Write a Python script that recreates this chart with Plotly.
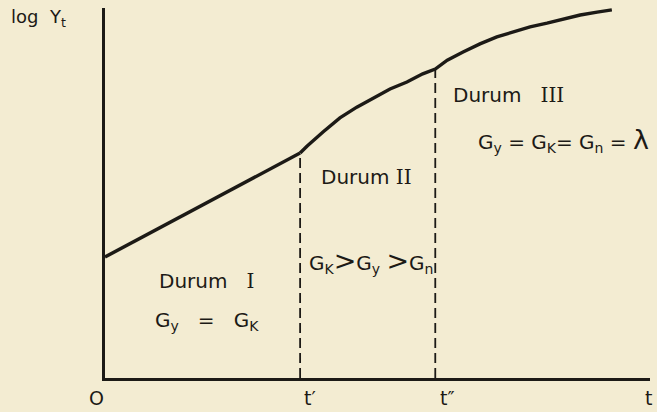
import plotly.graph_objects as go

# Phase boundaries on the time axis
t_prime = 35.8
t_double = 60.6
x_end = 100

# log Y_t path: linear growth in phase I, then bending curve through II and III
phase1_x = [0, 35.8]
phase1_y = [32.7, 60.8]
phase23_x = [35.8, 37.1, 40.0, 43.1, 46.2, 49.2, 52.3, 55.4, 58.3, 60.6,
             62.8, 65.7, 68.8, 71.9, 74.9, 78.0, 81.1, 84.0, 87.2, 90.3, 93.0]
phase23_y = [60.8, 62.7, 66.5, 70.3, 73.2, 75.7, 78.1, 80.0, 82.2, 83.5,
             85.9, 88.1, 90.3, 92.2, 93.5, 94.9, 95.9, 97.0, 98.1, 98.9, 99.5]

# Height of the curve where each boundary meets it
boundary_x = [t_prime, t_double]
boundary_y = [60.8, 83.5]

tick_labels = ["O", "t′", "t″", "t"]

ink = "#1c1a16"
paper = "#f3ecd2"
font = "DejaVu Sans"

fig = go.Figure()

for bx, by in zip(boundary_x, boundary_y):
    fig.add_trace(go.Scatter(
        x=[bx, bx], y=[0, by], mode="lines",
        line=dict(color=ink, width=1.8, dash="10px,5px"),
        hoverinfo="skip", showlegend=False,
    ))

fig.add_trace(go.Scatter(
    x=phase1_x, y=phase1_y, mode="lines",
    line=dict(color=ink, width=3.4), showlegend=False,
))
fig.add_trace(go.Scatter(
    x=phase23_x, y=phase23_y, mode="lines",
    line=dict(color=ink, width=3.4), showlegend=False,
))


def roman(s):
    return f'<span style="font-family:DejaVu Serif">{s}</span>'


def big(s, size=27):
    return f'<span style="font-size:{size}px">{s}</span>'


# Region labels placed in data coordinates
notes = [
    ("Durum   " + roman("I"), 18.6, 26.2, 20),
    ("G<sub>y</sub>   =   G<sub>K</sub>", 18.8, 15.3, 20),
    ("Durum " + roman("II"), 48.0, 54.3, 20),
    ("G<sub>K</sub>" + big("&gt;") + "G<sub>y</sub> " + big("&gt;") + "G<sub>n</sub>", 48.8, 31.6, 20),
    ("Durum   " + roman("III"), 74.0, 76.5, 20),
    ("G<sub>y</sub> = G<sub>K</sub>= G<sub>n</sub> = " + big("λ", 27), 84.2, 64.3, 20),
]
annotations = []
for text, x, y, size in notes:
    annotations.append(dict(
        text=text, x=x, y=y, xref="x", yref="y", xanchor="center", yanchor="middle",
        showarrow=False, font=dict(family=font, size=size, color=ink),
    ))

# Axis title and time-axis labels sit outside the plotting area, so use paper coordinates
annotations.append(dict(
    text="log  Y<sub>t</sub>", x=-0.176, y=0.974, xref="paper", yref="paper",
    xanchor="left", yanchor="middle", showarrow=False,
    font=dict(family=font, size=18, color=ink),
))
for label, px in zip(tick_labels, [-0.015, 0.377, 0.629, 0.998]):
    annotations.append(dict(
        text=label, x=px, y=-0.055, xref="paper", yref="paper",
        xanchor="center", yanchor="middle", showarrow=False,
        font=dict(family=font, size=19, color=ink),
    ))

fig.update_layout(
    width=657, height=412,
    margin=dict(l=105, r=7, t=8, b=34),
    paper_bgcolor=paper, plot_bgcolor=paper,
    annotations=annotations,
    xaxis=dict(range=[0, x_end], showgrid=False, zeroline=False, showticklabels=False,
               ticks="", showline=True, linecolor=ink, linewidth=3, fixedrange=True),
    yaxis=dict(range=[0, 100], showgrid=False, zeroline=False, showticklabels=False,
               ticks="", showline=True, linecolor=ink, linewidth=2.6, fixedrange=True),
)

fig.write_html("out.html", config={"displayModeBar": False})
